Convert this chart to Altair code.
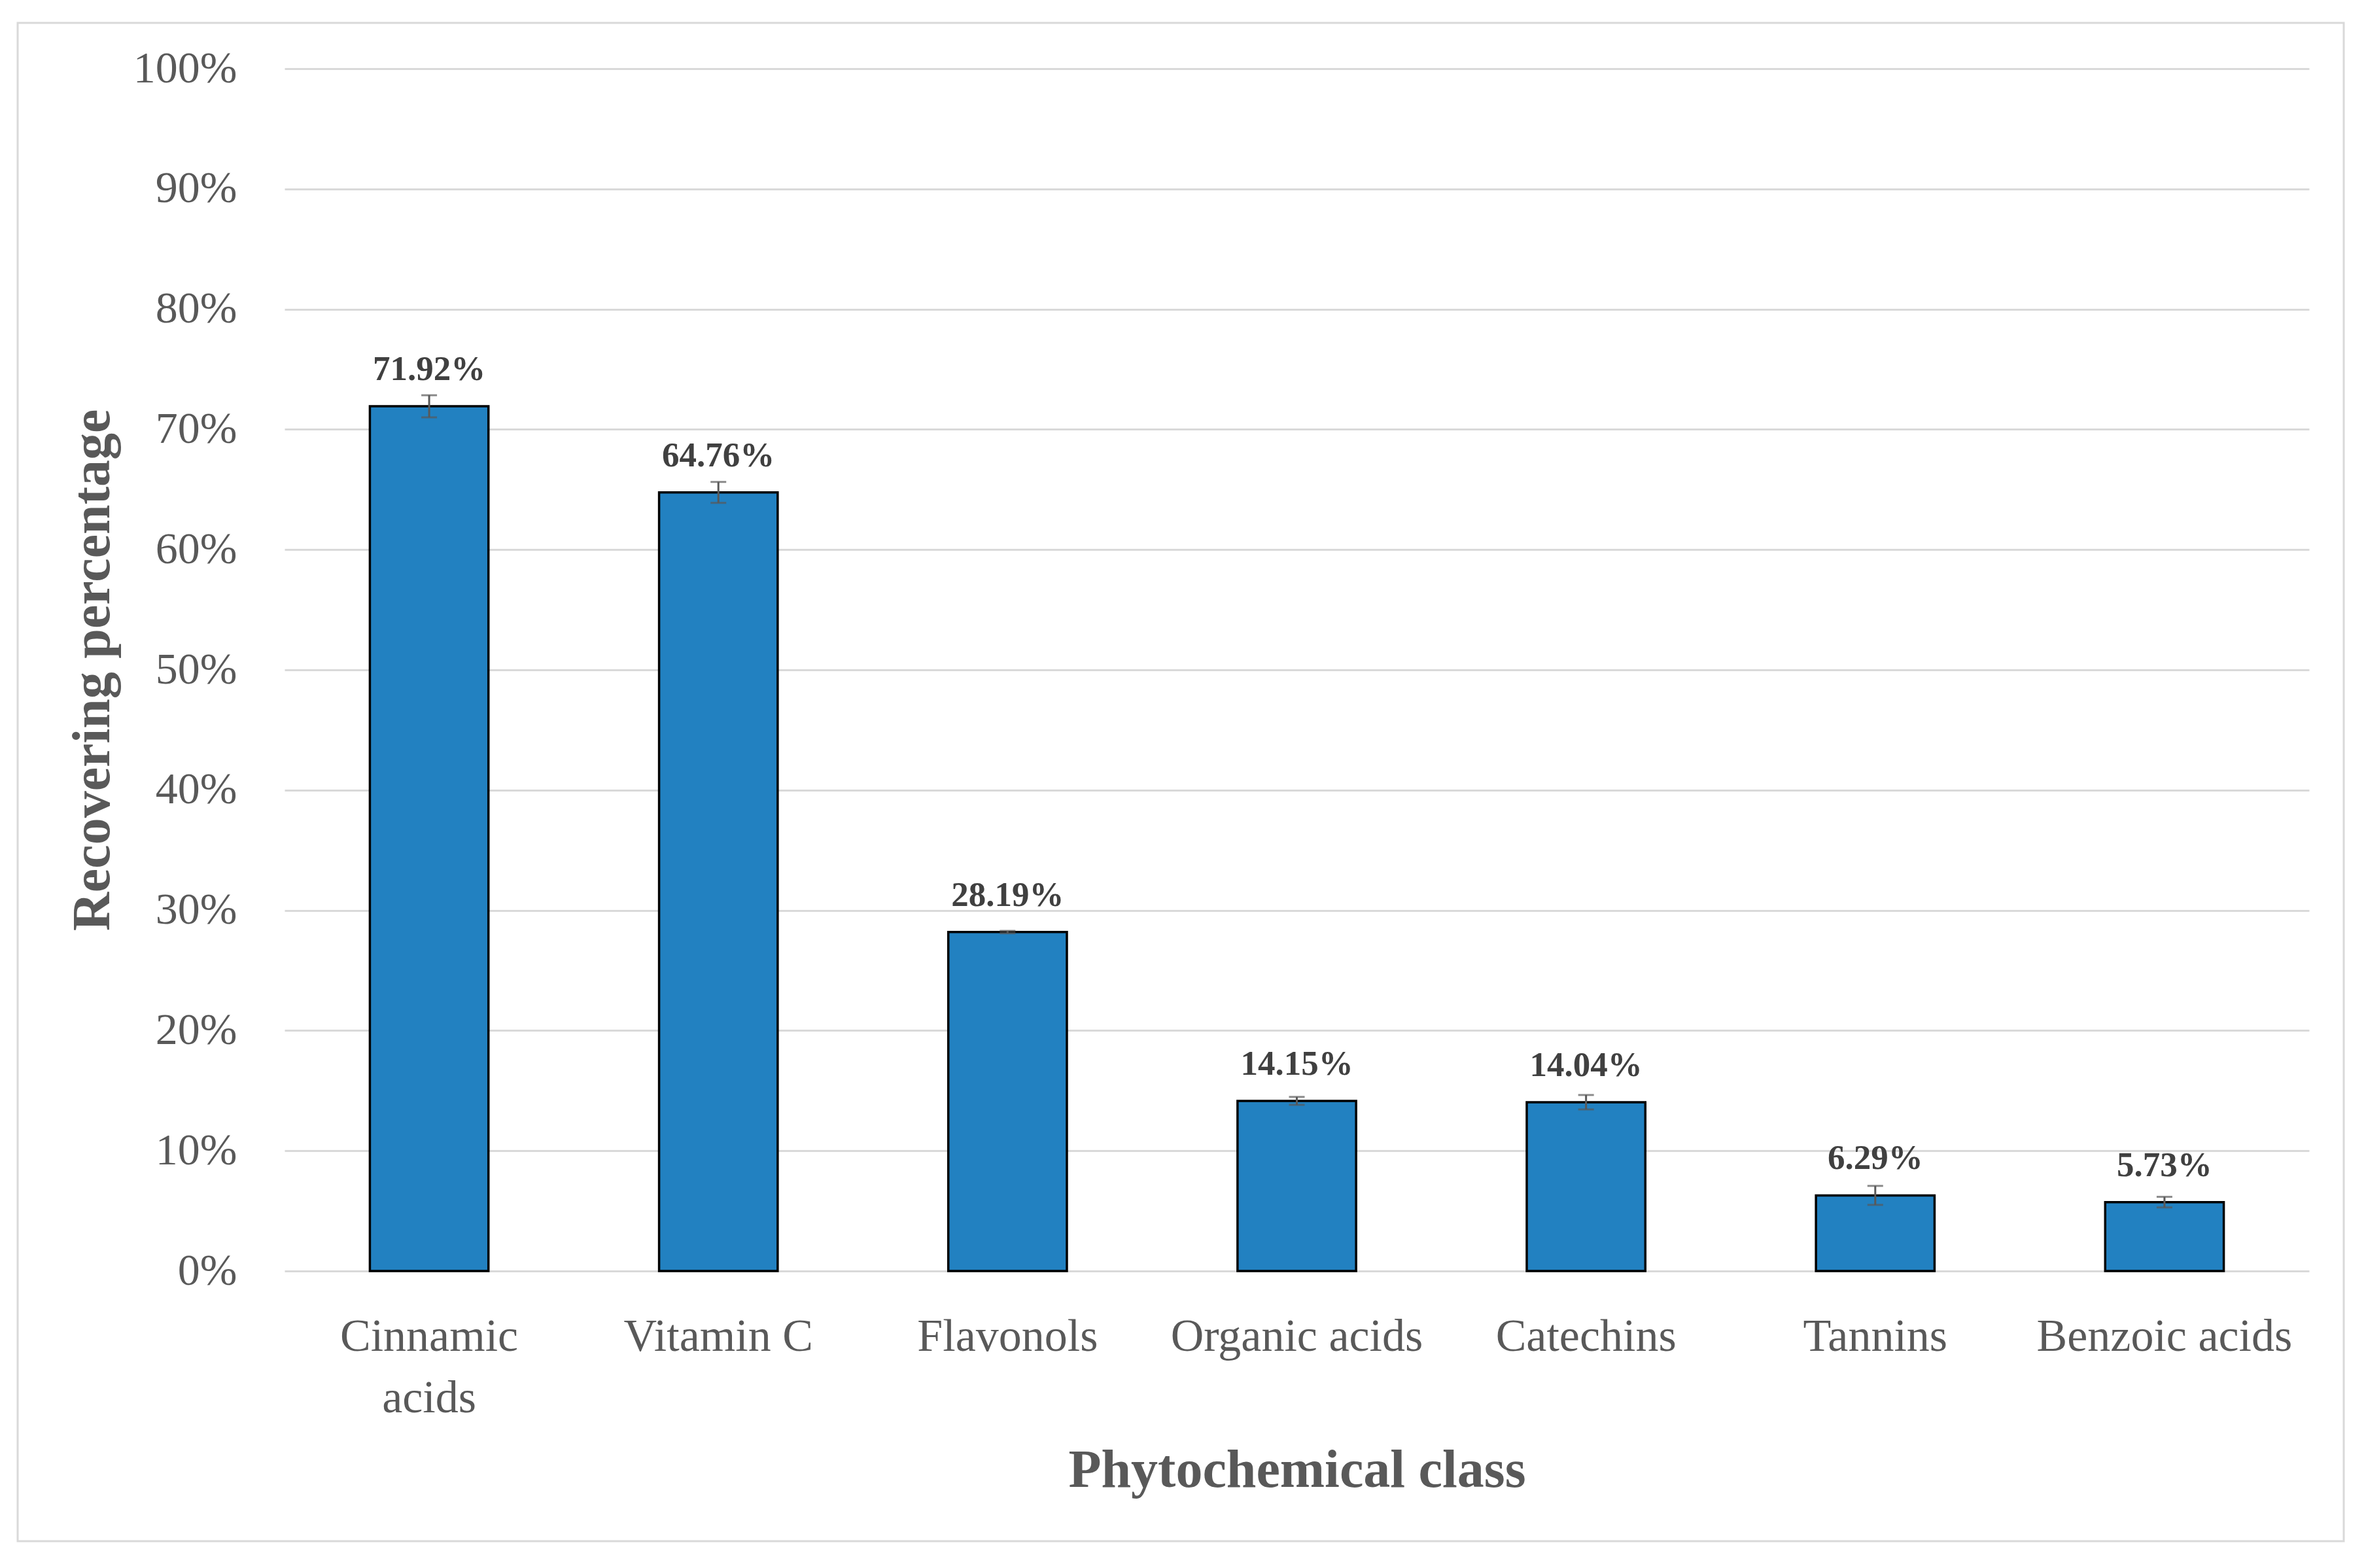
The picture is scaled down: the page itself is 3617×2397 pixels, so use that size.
import altair as alt
import pandas as pd

categories = ["Cinnamic acids", "Vitamin C", "Flavonols", "Organic acids",
              "Catechins", "Tannins", "Benzoic acids"]
values = [71.92, 64.76, 28.19, 14.15, 14.04, 6.29, 5.73]
errors = [0.92, 0.87, 0.10, 0.33, 0.60, 0.79, 0.44]

df = pd.DataFrame({"cat": categories, "value": values, "err": errors})
df["lo"] = df["value"] - df["err"]
df["hi"] = df["value"] + df["err"]

FONT = "Liberation Serif"
W, H = 3095, 1838

xenc = alt.X("cat:N", sort=categories,
             scale=alt.Scale(paddingInner=0.59, paddingOuter=0.295),
             axis=alt.Axis(title="Phytochemical class", domain=False, ticks=False,
                           labelAngle=0, labelFont=FONT, labelFontSize=70,
                           labelColor="#595959", labelPadding=66, labelBaseline="top",
                           labelLineHeight=94, labelLimit=0,
                           labelExpr="datum.value == 'Cinnamic acids' ? ['Cinnamic', 'acids'] : datum.value",
                           titleFont=FONT, titleFontSize=82, titleFontWeight="bold",
                           titleColor="#595959", titleBaseline="alphabetic",
                           titleY=329, titleX=W / 2, titleAlign="center"))

yscale = alt.Scale(domain=[0, 100], nice=False)
yaxis = alt.Axis(title="Recovering percentage", values=list(range(0, 101, 10)),
                 domain=False, ticks=False, grid=True, gridColor="#d9d9d9",
                 gridWidth=3, labelFont=FONT, labelFontSize=68, labelColor="#595959",
                 labelPadding=73, labelExpr="datum.value + '%'",
                 titleFont=FONT, titleFontSize=82, titleFontWeight="bold",
                 titleColor="#595959", titleAngle=270, titleBaseline="alphabetic",
                 titleX=-269, titleY=H / 2, titleAlign="center")

base = alt.Chart(df)

bars = base.mark_bar(color="#2281c1", stroke="black", strokeWidth=3.5).encode(
    x=xenc,
    y=alt.Y("value:Q", scale=yscale, axis=yaxis),
)

rules = base.mark_rule(color="#595959", strokeWidth=3).encode(
    x=alt.X("cat:N", sort=categories), y="lo:Q", y2="hi:Q")

caps_lo = base.mark_tick(color="#595959", thickness=3, size=24, orient="horizontal").encode(
    x=alt.X("cat:N", sort=categories), y="lo:Q")
caps_hi = base.mark_tick(color="#595959", thickness=3, size=24, orient="horizontal").encode(
    x=alt.X("cat:N", sort=categories), y="hi:Q")

labels = base.transform_calculate(
    lbl="format(datum.value, '.2f') + '%'"
).mark_text(font=FONT, fontSize=53, fontWeight="bold", color="#404040",
            dy=-40, baseline="alphabetic", align="center").encode(
    x=alt.X("cat:N", sort=categories), y="value:Q", text="lbl:N")

border = alt.Chart(alt.Data(values=[{"a": 1}])).mark_rect(
    fillOpacity=0, stroke="#d9d9d9", strokeWidth=3).encode(
    x=alt.value(-408), x2=alt.value(3148), y=alt.value(-70), y2=alt.value(2251))

chart = alt.layer(border, bars, rules, caps_lo, caps_hi, labels).properties(
    width=W, height=H,
    autosize=alt.AutoSizeParams(type="none"),
    padding={"left": 427, "top": 97, "right": 79, "bottom": 440},
    background="white",
).configure_view(stroke=None)

chart.save("out.html", embed_options={"renderer": "svg", "actions": False})
